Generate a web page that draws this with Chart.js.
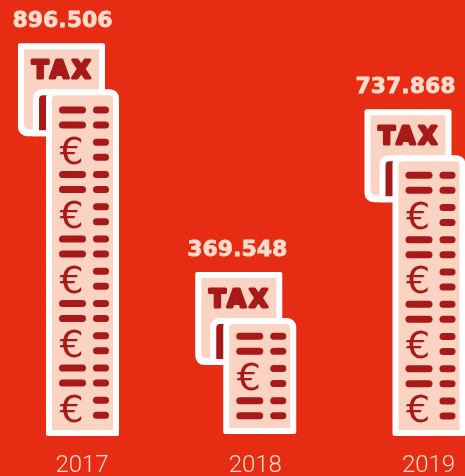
<!DOCTYPE html>
<html>
<head>
<meta charset="utf-8">
<script src="https://cdn.jsdelivr.net/npm/chart.js@4"></script>
<style>
    html, body { margin: 0; padding: 0; background: #e62d14; overflow: hidden; }
    canvas { display: block; }
</style>
</head>
<body>
<canvas id="taxChart" width="465" height="476"></canvas>
<script>
var years = ['2017', '2018', '2019'];
var taxValues = [896506, 369548, 737868];
var valueLabels = ['896.506', '369.548', '737.868'];

var WHITE = '#ffffff';
var PEACH = '#fbd3c3';
var DARK = '#a81a18';
var LABEL = '#fddccd';

// the pictures are not evenly placed in the original, small nudges per year
var iconShift = [0, 4, 0];
var labelShift = [-6, -8.5, -9.5];
var topRise = [0, 2, 3.5];
var baseRise = [0, 2, 0];

function roundBox(ctx, x, y, w, h, r, color) {
    ctx.fillStyle = color;
    ctx.beginPath();
    ctx.roundRect(x, y, w, h, r);
    ctx.fill();
}

function drawRows(ctx, left, sheetTop, sheetBottom) {
    var pairGap = 15, rowGap = 17.25;
    var sheetH = sheetBottom - sheetTop;
    var pairs = Math.floor((sheetH - 32 + rowGap) / (pairGap + rowGap));
    var used = pairs * pairGap + (pairs - 1) * rowGap;
    var y = sheetTop + (sheetH - used) / 2;
    for (var i = 0; i < pairs; i++) {
        if (i % 2 == 0) {
            roundBox(ctx, left + 41, y - 3.5, 27, 7, 3.5, DARK);
            roundBox(ctx, left + 41, y + pairGap - 3.5, 27, 7, 3.5, DARK);
        } else {
            ctx.fillStyle = DARK;
            ctx.font = '38px "DejaVu Sans"';
            ctx.textAlign = 'center';
            ctx.textBaseline = 'alphabetic';
            ctx.fillText('€', left + 53.5, y + pairGap / 2 + 14);
        }
        roundBox(ctx, left + 75, y - 3.5, 16, 7, 3.5, DARK);
        roundBox(ctx, left + 75, y + pairGap - 3.5, 16, 7, 3.5, DARK);
        y += pairGap + rowGap;
    }
}

function drawIcon(ctx, left, top, bottom) {
    // back sheet
    roundBox(ctx, left, top, 87, 93, [2, 2, 0, 9], WHITE);
    roundBox(ctx, left + 6, top + 6, 75, 80, [0, 0, 0, 5], PEACH);

    ctx.save();
    ctx.font = 'bold 24px "DejaVu Sans"';
    ctx.letterSpacing = '3.5px';
    ctx.textAlign = 'center';
    ctx.textBaseline = 'alphabetic';
    ctx.lineJoin = 'round';
    ctx.lineWidth = 3;
    ctx.strokeStyle = DARK;
    ctx.fillStyle = DARK;
    ctx.strokeText('TAX', left + 45, top + 35);
    ctx.fillText('TAX', left + 45, top + 35);
    ctx.restore();

    // curl of the front sheet
    roundBox(ctx, left + 15, top + 46, 30, 47, [9, 0, 0, 0], WHITE);
    roundBox(ctx, left + 21, top + 52, 10, 35, [4, 0, 0, 0], DARK);

    // front sheet
    roundBox(ctx, left + 28, top + 46, 73, bottom - top - 46, [9, 9, 2, 2], WHITE);
    roundBox(ctx, left + 34, top + 52, 61, bottom - top - 58, [4, 4, 0, 0], PEACH);
    drawRows(ctx, left, top + 46, bottom);
}

var pictogramPlugin = {
    id: 'pictogram',
    afterDatasetsDraw: function (chart) {
        var ctx = chart.ctx;
        chart.getDatasetMeta(0).data.forEach(function (bar, i) {
            var left = bar.x - bar.width / 2 + iconShift[i];
            var top = bar.y - topRise[i];
            drawIcon(ctx, left, top, bar.base - baseRise[i]);
            ctx.fillStyle = LABEL;
            ctx.strokeStyle = LABEL;
            ctx.lineWidth = 0.8;
            ctx.lineJoin = 'round';
            ctx.font = 'bold 22px "DejaVu Sans"';
            ctx.textAlign = 'center';
            ctx.textBaseline = 'alphabetic';
            ctx.strokeText(valueLabels[i], bar.x + iconShift[i] + labelShift[i], top - 16);
            ctx.fillText(valueLabels[i], bar.x + iconShift[i] + labelShift[i], top - 16);
        });
    }
};

new Chart(document.getElementById('taxChart').getContext('2d'), {
    type: 'bar',
    data: {
        labels: years,
        datasets: [{
            data: taxValues,
            backgroundColor: 'rgba(0,0,0,0)',
            barThickness: 101
        }]
    },
    options: {
        responsive: false,
        animation: false,
        layout: { padding: { left: 68.5, right: 50, top: 0, bottom: 0 } },
        plugins: { legend: { display: false }, tooltip: { enabled: false } },
        scales: {
            x: {
                offset: false,
                grid: { display: false },
                border: { display: false },
                afterFit: function (scale) { scale.height = 40; },
                ticks: {
                    color: LABEL,
                    font: { family: 'Roboto', size: 24, weight: '300' },
                    maxRotation: 0,
                    minRotation: 0,
                    autoSkip: false,
                    padding: 8,
                    labelOffset: 13.5
                }
            },
            y: {
                display: false,
                min: 0,
                max: 995000
            }
        }
    },
    plugins: [pictogramPlugin]
});
</script>
</body>
</html>
